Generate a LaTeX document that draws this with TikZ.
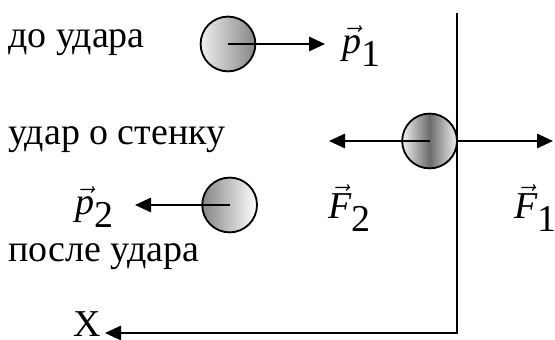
\documentclass[tikz,border=0pt]{standalone}
\usepackage{fontspec}
\setmainfont{Liberation Serif}
\usepackage{tikz}
\usetikzlibrary{arrows.meta, positioning, calc}

\begin{document}
\begin{tikzpicture}[font=\rmfamily\fontsize{27}{32}\selectfont,
    ball/.style={circle, draw=black, line width=1.3pt, minimum size=1.37cm, inner sep=0pt},
    vec/.style={line width=1.3pt, -{Triangle[length=0.4cm, width=0.36cm]}},
    caption/.style={anchor=base west, inner sep=0pt},
    lbl/.style={inner sep=0pt}]

% ── Canvas ──────────────────────────────────────────────────
\useasboundingbox (0,0) rectangle (13.875,8.5);

% ── Colour palette ──────────────────────────────────────────
\colorlet{light}{white!94!black}
\colorlet{mid}{black!48}
\colorlet{dark}{black!58}

% ── Row captions ────────────────────────────────────────────
\node[caption] (before) at (0.2, 7.3)  {до удара};
\node[caption] (hit)    at (0.2, 4.875) {удар о стенку};
\node[caption] (after)  at (0.2, 1.95) {после удара};

% ── Wall and x axis ─────────────────────────────────────────
\coordinate (walltop) at (11.425, 8.175);
\coordinate (corner)  at (11.425, 0.175);
\coordinate (xtip)    at (2.625, 0.175);
\draw[vec] (walltop) -- (corner) -- (xtip);
\node[lbl] (xlab) at (2.17, 0.4) {X};

% ── Before the impact ───────────────────────────────────────
\node[ball, shading=axis, left color=light, right color=mid]
    (ballA) at (5.7, 7.4) {};
\coordinate (tipA) at (8.125, 7.4);
\draw[vec] (ballA.center) -- (tipA);
\node[lbl] (pA) at (9.05, 7.35) {$\vec{\textit{p}}_{\textrm{1}}$};

% ── At the wall ─────────────────────────────────────────────
\node[ball, shading=axis, left color=light, right color=light, middle color=dark]
    (ballB) at (10.74, 4.975) {};
\coordinate (tipF2) at (8.225, 4.975);
\coordinate (tipF1) at (13.825, 4.975);
\draw[vec] (ballB.center) -- (tipF2);
\draw[vec] (ballB.east) -- (tipF1);
\node[lbl] (FB) at (8.75, 3.3) {$\vec{\textit{F}}_{\textrm{2}}$};
\node[lbl] (FA) at (13.4, 3.3) {$\vec{\textit{F}}_{\textrm{1}}$};

% ── After the impact ────────────────────────────────────────
\node[ball, shading=axis, left color=mid, right color=white]
    (ballC) at (5.74, 3.375) {};
\coordinate (tipC) at (3.375, 3.375);
\draw[vec] (ballC.center) -- (tipC);
\node[lbl] (pB) at (2.375, 3.33) {$\vec{\textit{p}}_{\textrm{2}}$};

\end{tikzpicture}
\end{document}
